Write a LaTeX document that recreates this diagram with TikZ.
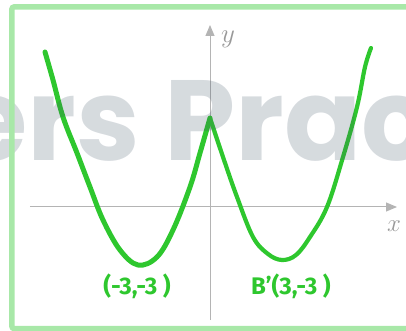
\documentclass[tikz,border=0pt]{standalone}
\usepackage{fontspec}
\setmainfont{Fira Sans}
\newfontfamily\markfont{Poppins}
\usetikzlibrary{arrows.meta}
\definecolor{curvegreen}{HTML}{2EC72E}
\definecolor{framegreen}{HTML}{A8E8A8}
\definecolor{axisgray}{HTML}{B4B4B4}
\definecolor{markgray}{HTML}{3F5365}

\begin{document}
\begin{tikzpicture}[x=1pt,y=1pt,>={Triangle[length=11pt,width=9pt]}]
        \useasboundingbox (-210,-124) rectangle (196,207);
        \clip (-210,-124) rectangle (196,207);
        % axes
        \coordinate (xstart) at (-180,0);
        \coordinate (xend) at (187,0);
        \coordinate (ystart) at (0,-113);
        \coordinate (yend) at (0,182);
        \draw[->,color=axisgray,line width=1pt] (xstart) -- (xend);
        \draw[->,color=axisgray,line width=1pt] (ystart) -- (yend);
        \node[color=axisgray!85!black,font=\huge,scale=1.2,transform shape] (xlab) at (184,-19) {$x$};
        \node[color=axisgray!85!black,font=\huge,scale=1.3,transform shape] (ylab) at (18,168) {$y$};
        % the curve
        \draw[color=curvegreen,line width=5pt,line cap=round] plot[smooth,tension=0.6] coordinates
            {(-165,155) (-157,127) (-147,90) (-133,54) (-120,20) (-107,-13) (-90,-43) (-72,-58)
             (-53,-50) (-37,-23) (-20,20) (-10,54) (0,89)};
        \draw[color=curvegreen,line width=4.2pt,line cap=round] plot[smooth,tension=0.6] coordinates
            {(0,89) (13,50) (27,10) (43,-30) (58,-47) (72,-53) (86,-48) (100,-30) (117,0)
             (133,50) (147,100) (155,140) (161,159)};
        \node[color=curvegreen,font=\bfseries\fontsize{24}{24}\selectfont] (minA) at (-73,-79) {(-3,-3 )};
        \node[color=curvegreen,font=\bfseries\fontsize{24}{24}\selectfont] (minB) at (81,-79) {B'(3,-3 )};
        % watermark
        \node[anchor=base west,inner sep=0pt,text=markgray,text opacity=0.21,
              font=\markfont\bfseries\fontsize{114}{114}\selectfont] (mark) at (-46,46) {\llap{ers }Prac};
        % frame
        \draw[color=framegreen,line width=5.5pt,rounded corners=2pt] (230,200) -- (-198,200) -- (-198,-121.5) -- (230,-121.5);
\end{tikzpicture}
\end{document}
